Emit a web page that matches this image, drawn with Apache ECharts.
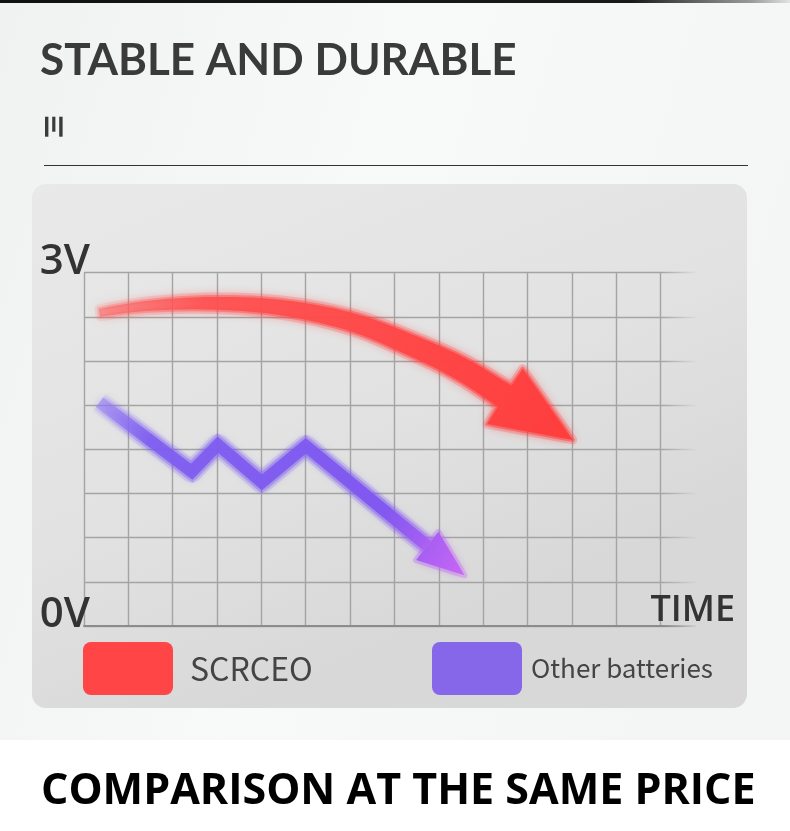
<!DOCTYPE html>
<html><head><meta charset="utf-8">
<script src="https://cdn.jsdelivr.net/npm/echarts@6/dist/echarts.min.js"></script>
<style>html,body{margin:0;padding:0;background:#fff;}#c{width:790px;height:831px;}</style>
</head><body><div id="c"></div>
<script>
// ---- data ----
const seriesNames = ['SCRCEO', 'Other batteries'];
// time in grid columns, voltage in volts; last point of each list is the arrow tip
const scrceoTime = [0.35, 1.48, 3.01, 4.52, 6.04, 7.34, 8.47, 9.49, 11.02];
const scrceoVolt = [2.66, 2.72, 2.74, 2.70, 2.58, 2.39, 2.19, 1.95, 1.58];
const otherTime  = [0.35, 2.43, 3.02, 4.01, 5.00, 7.74, 8.58];
const otherVolt  = [1.90, 1.31, 1.54, 1.22, 1.53, 0.68, 0.43];
const yTickLabels = ['0V', '', '', '', '', '', '', '', '3V'];
const xAxisName = 'TIME';
const titleTop = 'STABLE AND DURABLE';
const titleBottom = 'COMPARISON AT THE SAME PRICE';

function smoothPts(pts, n) {
  const out = [];
  const L = pts.length;
  for (let i = 0; i < L - 2; i++) {
    const p0 = pts[Math.max(i - 1, 0)], p1 = pts[i], p2 = pts[i + 1], p3 = pts[Math.min(i + 2, L - 1)];
    for (let k = 0; k < n; k++) {
      const t = k / n, t2 = t * t, t3 = t2 * t;
      const f = j => 0.5 * ((2 * p1[j]) + (-p0[j] + p2[j]) * t + (2 * p0[j] - 5 * p1[j] + 4 * p2[j] - p3[j]) * t2 + (-p0[j] + 3 * p1[j] - 3 * p2[j] + p3[j]) * t3);
      out.push([f(0), f(1)]);
    }
  }
  out.push(pts[L - 2]);
  return out;
}
function norm(v) { const l = Math.hypot(v[0], v[1]) || 1; return [v[0] / l, v[1] / l]; }

function redArrow(params, api) {
  if (params.dataIndex !== 0) return null;
  const pts = scrceoTime.map((x, i) => api.coord([x, scrceoVolt[i]]));
  const tip = pts[pts.length - 1];
  const sh = smoothPts(pts, 12);
  const base = sh[sh.length - 1];
  const cum = [0];
  for (let i = 1; i < sh.length; i++) cum.push(cum[i - 1] + Math.hypot(sh[i][0] - sh[i - 1][0], sh[i][1] - sh[i - 1][1]));
  const total = cum[cum.length - 1];
  const left = [], right = [];
  for (let i = 0; i < sh.length; i++) {
    const a = sh[Math.max(i - 1, 0)], b = sh[Math.min(i + 1, sh.length - 1)];
    let d = norm([b[0] - a[0], b[1] - a[1]]);
    if (i === sh.length - 1) d = norm([tip[0] - base[0], tip[1] - base[1]]);
    const nrm = [-d[1], d[0]];
    const w = (8 + 17 * (cum[i] / total)) / 2;
    left.push([sh[i][0] + nrm[0] * w, sh[i][1] + nrm[1] * w]);
    right.push([sh[i][0] - nrm[0] * w, sh[i][1] - nrm[1] * w]);
  }
  const hd = norm([tip[0] - base[0], tip[1] - base[1]]);
  const hn = [-hd[1], hd[0]];
  const hw = 33;
  const poly = left.concat([[base[0] + hn[0] * hw, base[1] + hn[1] * hw], tip, [base[0] - hn[0] * hw, base[1] - hn[1] * hw]], right.slice().reverse());
  const mk = (a0, a1, a2) => {
    const g = new echarts.graphic.LinearGradient(0, 0, 0, 0, [
      { offset: 0, color: 'rgba(255,100,100,' + a0 + ')' },
      { offset: 0.2, color: 'rgba(255,80,80,' + a1 + ')' },
      { offset: 1, color: 'rgba(255,61,61,' + a2 + ')' }
    ], true);
    g.x = pts[0][0]; g.y = pts[0][1]; g.x2 = tip[0]; g.y2 = tip[1];
    return g;
  };
  return {
    type: 'group',
    children: [
      { type: 'polygon', shape: { points: poly }, style: { fill: null, stroke: mk(0.12, 0.2, 0.25), lineWidth: 9, lineJoin: 'round' } },
      { type: 'polygon', shape: { points: poly }, style: { fill: null, stroke: mk(0.25, 0.4, 0.5), lineWidth: 4, lineJoin: 'round' } },
      { type: 'polygon', shape: { points: poly }, style: { fill: mk(0.55, 0.9, 1), shadowBlur: 12, shadowColor: 'rgba(255,60,60,0.7)' } }
    ]
  };
}

function purpleArrow(params, api) {
  if (params.dataIndex !== 0) return null;
  const pts = otherTime.map((x, i) => api.coord([x, otherVolt[i]]));
  const tip = pts[pts.length - 1];
  const shaft = pts.slice(0, pts.length - 1);
  const base = shaft[shaft.length - 1];
  const hd = norm([tip[0] - base[0], tip[1] - base[1]]);
  const hn = [-hd[1], hd[0]];
  const hw = 18;
  const mk = (a) => {
    const g = new echarts.graphic.LinearGradient(0, 0, 0, 0, [
      { offset: 0, color: 'rgba(150,125,245,' + (0.45 * a) + ')' },
      { offset: 0.15, color: 'rgba(125,92,240,' + (0.85 * a) + ')' },
      { offset: 0.75, color: 'rgba(129,88,240,' + a + ')' },
      { offset: 1, color: 'rgba(200,102,244,' + a + ')' }
    ], true);
    g.x = pts[0][0]; g.y = pts[0][1]; g.x2 = tip[0]; g.y2 = tip[1];
    return g;
  };
  const head = [[base[0] + hn[0] * hw, base[1] + hn[1] * hw], tip, [base[0] - hn[0] * hw, base[1] - hn[1] * hw]];
  return {
    type: 'group',
    children: [
      { type: 'polyline', shape: { points: shaft }, style: { stroke: mk(0.18), lineWidth: 22, lineJoin: 'round', fill: null } },
      { type: 'polyline', shape: { points: shaft }, style: { stroke: mk(0.35), lineWidth: 17, lineJoin: 'miter', fill: null } },
      { type: 'polygon', shape: { points: head }, style: { fill: null, stroke: mk(0.3), lineWidth: 6, lineJoin: 'round' } },
      { type: 'polyline', shape: { points: shaft }, style: { stroke: mk(1), lineWidth: 12, lineJoin: 'miter', fill: null, shadowBlur: 8, shadowColor: 'rgba(120,90,240,0.7)' } },
      { type: 'polygon', shape: { points: head }, style: { fill: mk(1), shadowBlur: 8, shadowColor: 'rgba(190,100,240,0.7)' } }
    ]
  };
}

const gridGray = '#a4a4a4';
const xSplitColors = [];
for (let i = 0; i < 14; i++) xSplitColors.push(gridGray);
xSplitColors.push('rgba(0,0,0,0)');
const fadeH = (c, c0) => ({ type: 'linear', x: 0, y: 0, x2: 1, y2: 0, colorStops: [{ offset: 0, color: c }, { offset: 0.94, color: c }, { offset: 1, color: c0 }] });
const boxIcon = 'path://M8,0H82A8,8 0 0 1 90,8V45A8,8 0 0 1 82,53H8A8,8 0 0 1 0,45V8A8,8 0 0 1 8,0Z';

const chart = echarts.init(document.getElementById('c'), null, { renderer: 'canvas' });
chart.setOption({
  animation: false,
  backgroundColor: '#ffffff',
  graphic: [
    { type: 'rect', z: -20, shape: { x: 0, y: 0, width: 790, height: 740 },
      style: { fill: { type: 'linear', x: 0, y: 0, x2: 1, y2: 0.3, colorStops: [{ offset: 0, color: '#f0f1f1' }, { offset: 0.5, color: '#f8f9f9' }, { offset: 1, color: '#f4f5f5' }] } } },
    { type: 'rect', z: -19, shape: { x: 0, y: 0, width: 790, height: 3 },
      style: { fill: { type: 'linear', x: 0, y: 0, x2: 1, y2: 0, colorStops: [{ offset: 0, color: '#111' }, { offset: 0.8, color: '#1a1a1a' }, { offset: 0.95, color: 'rgba(60,60,60,0.5)' }, { offset: 1, color: 'rgba(60,60,60,0.1)' }] } } },
    { type: 'rect', z: -18, shape: { x: 32, y: 184, width: 715, height: 524, r: 14 },
      style: { fill: { type: 'linear', x: 0, y: 0, x2: 0.3, y2: 1, colorStops: [{ offset: 0, color: '#e9e9e9' }, { offset: 0.6, color: '#e2e2e2' }, { offset: 1, color: '#d8d8d8' }] } } },
    { type: 'line', z: -17, shape: { x1: 44, y1: 165.5, x2: 748, y2: 165.5 }, style: { stroke: '#333', lineWidth: 1.2 } },
    { type: 'rect', z: -17, shape: { x: 45, y: 116.7, width: 3.4, height: 20 }, style: { fill: '#3a3a3a' } },
    { type: 'rect', z: -17, shape: { x: 52.2, y: 116.7, width: 3.2, height: 15 }, style: { fill: '#3a3a3a' } },
    { type: 'rect', z: -17, shape: { x: 59.2, y: 116.7, width: 3.4, height: 20 }, style: { fill: '#3a3a3a' } }
  ],
  title: [
    { text: titleTop, left: 40, top: 39, padding: 0,
      textStyle: { fontFamily: 'Lato', fontWeight: 700, fontSize: 44, color: '#3a3a3a' } },
    { text: titleBottom, left: 41, top: 770, padding: 0,
      textStyle: { fontFamily: 'Open Sans', fontWeight: 700, fontSize: 43, color: '#000' } }
  ],
  legend: [
    { data: [{ name: seriesNames[0], itemStyle: { color: '#ff4545', borderWidth: 0 } }], left: 83, top: 642, padding: 0, selectedMode: false,
      itemWidth: 90, itemHeight: 53, icon: boxIcon,
      textStyle: { fontFamily: 'Noto Sans CJK SC', fontSize: 32, color: '#444', padding: [0, 0, 0, 12] } },
    { data: [{ name: seriesNames[1], itemStyle: { color: '#8667e9', borderWidth: 0 } }], left: 432, top: 642, padding: 0, selectedMode: false,
      itemWidth: 90, itemHeight: 53, icon: boxIcon,
      textStyle: { fontFamily: 'Noto Sans CJK SC', fontSize: 26, color: '#444', padding: [0, 0, 0, 4] } }
  ],
  grid: { left: 84, top: 272.7, width: 612, height: 353.3, containLabel: false },
  xAxis: {
    type: 'value', min: 0, max: 13.8, interval: 1,
    name: xAxisName, nameLocation: 'end', nameGap: 39,
    nameTextStyle: { fontFamily: 'Open Sans', fontWeight: 600, fontSize: 36, color: '#333', align: 'right', verticalAlign: 'bottom', lineHeight: 30 },
    axisLine: { show: true, lineStyle: { color: fadeH('#8c8c8c', 'rgba(140,140,140,0)'), width: 2 } },
    axisTick: { show: false }, axisLabel: { show: false },
    splitLine: { show: true, lineStyle: { color: xSplitColors, width: 1.4 } }
  },
  yAxis: {
    type: 'value', min: 0, max: 3, interval: 0.375,
    axisLine: { show: false }, axisTick: { show: false },
    axisLabel: { show: true, formatter: (v, i) => yTickLabels[i] || '', margin: -6, align: 'right', verticalAlign: 'bottom', lineHeight: 22,
      fontFamily: 'Open Sans', fontWeight: 600, fontSize: 42, color: '#333' },
    splitLine: { show: true, lineStyle: { color: fadeH(gridGray, 'rgba(164,164,164,0)'), width: 1.4 } }
  },
  series: [
    { name: seriesNames[0], type: 'custom', coordinateSystem: 'cartesian2d', clip: false, z: 5,
      itemStyle: { color: '#ff4545' },
      data: scrceoTime.map((x, i) => [x, scrceoVolt[i]]), renderItem: redArrow },
    { name: seriesNames[1], type: 'custom', coordinateSystem: 'cartesian2d', clip: false, z: 5,
      itemStyle: { color: '#8667e9' },
      data: otherTime.map((x, i) => [x, otherVolt[i]]), renderItem: purpleArrow }
  ]
});
</script></body></html>
